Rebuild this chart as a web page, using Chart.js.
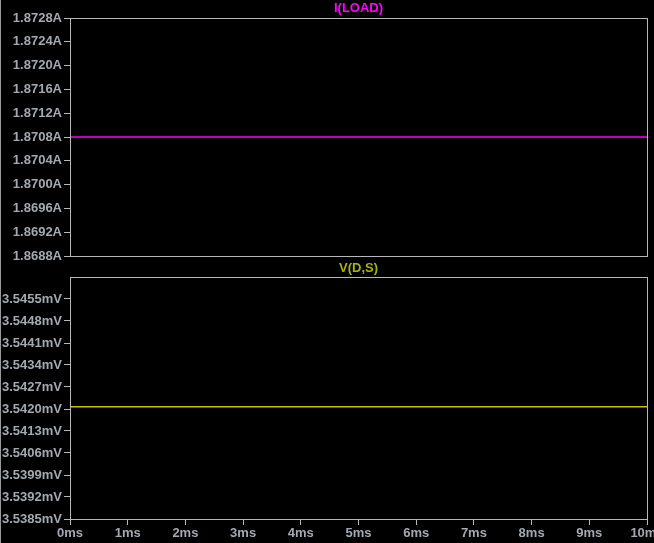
<!DOCTYPE html>
<html>
<head>
<meta charset="utf-8">
<script src="https://cdn.jsdelivr.net/npm/chart.js@4/dist/chart.umd.min.js"></script>
<style>
  html, body { margin:0; padding:0; background:#000; width:654px; height:543px; overflow:hidden; }
  #wrap { position:relative; width:654px; height:543px; background:#000; }
  #c1 { position:absolute; left:0; top:0; }
  #c2 { position:absolute; left:0; top:262px; }
  #edge { position:absolute; left:0; top:0; width:1px; height:543px; background:#9a9a9a; }
</style>
</head>
<body>
<div id="wrap">
  <canvas id="c1" width="654" height="264"></canvas>
  <canvas id="c2" width="654" height="281"></canvas>
  <div id="edge"></div>
</div>
<script>
// ---- data ----
const timeMs = [0, 1, 2, 3, 4, 5, 6, 7, 8, 9, 10];
const iLoad  = [1.8708, 1.8708, 1.8708, 1.8708, 1.8708, 1.8708, 1.8708, 1.8708, 1.8708, 1.8708, 1.8708];
const vDS    = [3.54207, 3.54207, 3.54207, 3.54207, 3.54207, 3.54207, 3.54207, 3.54207, 3.54207, 3.54207, 3.54207];
const iTicks = [1.8688, 1.8692, 1.8696, 1.8700, 1.8704, 1.8708, 1.8712, 1.8716, 1.8720, 1.8724, 1.8728];
const vTicks = [3.5385, 3.5392, 3.5399, 3.5406, 3.5413, 3.5420, 3.5427, 3.5434, 3.5441, 3.5448, 3.5455];
const xTicks = [0, 1, 2, 3, 4, 5, 6, 7, 8, 9, 10];
const iTitle = 'I(LOAD)';
const vTitle = 'V(D,S)';

const TEXT = '#a3a9b1';
const AXIS = '#b8b8b8';
const FONT = { family: "'Liberation Sans', Arial, sans-serif", size: 13, weight: 'bold' };

const boxPlugin = {
  id: 'box',
  afterDraw(chart) {
    const a = chart.chartArea, ctx = chart.ctx;
    ctx.save();
    ctx.strokeStyle = AXIS;
    ctx.lineWidth = 1;
    ctx.strokeRect(Math.round(a.left) + 0.5, Math.round(a.top) + 0.5,
                   Math.round(a.right - a.left), Math.round(a.bottom - a.top));
    ctx.restore();
  }
};

function yAxis(ticks, min, max, unit) {
  return {
    type: 'linear', min: min, max: max,
    afterBuildTicks: s => { s.ticks = ticks.map(v => ({ value: v })); },
    afterFit: s => { s.width = 70; s.paddingTop = 0; s.paddingBottom = 0; },
    ticks: { color: TEXT, font: FONT, padding: 2, callback: v => v.toFixed(4) + unit },
    grid: { drawOnChartArea: false, drawTicks: true, tickLength: 6, color: AXIS },
    border: { color: AXIS }
  };
}

function xAxis(show) {
  return {
    type: 'linear', min: 0, max: 10, display: show,
    afterBuildTicks: s => { s.ticks = xTicks.map(v => ({ value: v })); },
    afterFit: s => { s.height = show ? 24 : 0; s.paddingLeft = 0; s.paddingRight = 0; },
    ticks: { color: TEXT, font: FONT, padding: 1, maxRotation: 0, autoSkip: false,
             callback: v => v + 'ms' },
    grid: { drawOnChartArea: false, drawTicks: true, tickLength: 6, color: AXIS },
    border: { color: AXIS }
  };
}

function makeChart(id, title, titleColor, titlePad, yData, lineColor, yCfg, showX, padBottom) {
  return new Chart(document.getElementById(id), {
    type: 'line',
    data: {
      datasets: [{
        data: timeMs.map((t, i) => ({ x: t, y: yData[i] })),
        borderColor: lineColor, borderWidth: 1.6, pointRadius: 0, tension: 0
      }]
    },
    options: {
      responsive: false, animation: false,
      layout: { padding: { left: 0, right: 7, top: 0, bottom: padBottom } },
      plugins: {
        legend: { display: false },
        tooltip: { enabled: false },
        title: { display: true, text: title, color: titleColor, fullSize: false,
                 font: Object.assign({}, FONT, { lineHeight: 1 }), padding: titlePad }
      },
      scales: { x: xAxis(showX), y: yCfg }
    },
    plugins: [boxPlugin]
  });
}

makeChart('c1', iTitle, '#ff00ff', { top: 2, bottom: 3 }, iLoad, '#ff00ff',
          yAxis(iTicks, 1.8688, 1.8728, 'A'), false, 8);
makeChart('c2', vTitle, '#a8b400', { top: 0, bottom: 2 }, vDS, '#c8c000',
          yAxis(vTicks, 3.5385, 3.5462, 'mV'), true, 0);
</script>
</body>
</html>
